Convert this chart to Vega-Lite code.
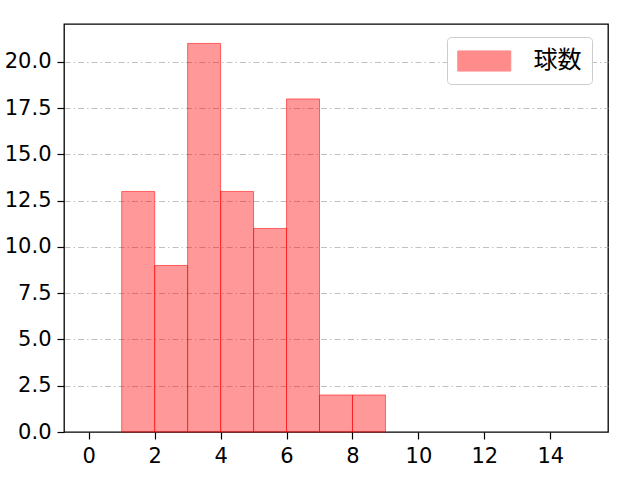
{
  "$schema": "https://vega.github.io/schema/vega-lite/v6.json",
  "autosize": {"type": "none"},
  "padding": {"left": 64, "top": 24, "right": 32, "bottom": 48},
  "width": 544,
  "height": 408,
  "background": "white",
  "data": {
    "values": [
      {"bin_start": 1, "bin_end": 2, "count": 13, "label": "球数"},
      {"bin_start": 2, "bin_end": 3, "count": 9, "label": "球数"},
      {"bin_start": 3, "bin_end": 4, "count": 21, "label": "球数"},
      {"bin_start": 4, "bin_end": 5, "count": 13, "label": "球数"},
      {"bin_start": 5, "bin_end": 6, "count": 11, "label": "球数"},
      {"bin_start": 6, "bin_end": 7, "count": 18, "label": "球数"},
      {"bin_start": 7, "bin_end": 8, "count": 2, "label": "球数"},
      {"bin_start": 8, "bin_end": 9, "count": 2, "label": "球数"}
    ]
  },
  "mark": {
    "type": "rect",
    "fillOpacity": 0.4,
    "stroke": "#ff0000",
    "strokeOpacity": 0.55,
    "strokeWidth": 1
  },
  "encoding": {
    "x": {
      "field": "bin_start",
      "type": "quantitative",
      "title": null,
      "scale": {"domain": [-0.75, 15.75], "nice": false, "zero": false},
      "axis": {"values": [0, 2, 4, 6, 8, 10, 12, 14], "grid": false}
    },
    "x2": {"field": "bin_end"},
    "y": {
      "field": "count",
      "type": "quantitative",
      "title": null,
      "scale": {"domain": [0, 22.05], "nice": false},
      "axis": {
        "values": [0, 2.5, 5, 7.5, 10, 12.5, 15, 17.5, 20],
        "format": ".1f",
        "grid": true,
        "gridDash": [6, 3, 1.5, 3],
        "gridColor": "#b0b0b0",
        "gridWidth": 0.8,
        "gridOpacity": {"condition": {"test": "datum.value === 0", "value": 0}, "value": 1}
      }
    },
    "y2": {"datum": 0},
    "color": {
      "field": "label",
      "type": "nominal",
      "scale": {"range": ["#ff0000"]},
      "legend": {
        "title": null,
        "orient": "none",
        "legendX": 383,
        "legendY": 13,
        "padding": 10,
        "strokeColor": "#cccccc",
        "fillColor": "white",
        "cornerRadius": 4,
        "symbolType": "M-1,-0.76L3,-0.76L3,0.76L-1,0.76Z",
        "symbolSize": 702,
        "symbolOpacity": 0.45,
        "symbolStrokeColor": "#ff0000",
        "symbolStrokeWidth": 1,
        "labelOffset": 48.5,
        "labelFont": "Noto Sans CJK JP",
        "labelFontSize": 24,
        "labelColor": "black"
      }
    }
  },
  "config": {
    "view": {"stroke": "black", "strokeWidth": 1.3},
    "axis": {
      "zindex": 1,
      "domain": false,
      "tickColor": "black",
      "tickSize": 7,
      "tickWidth": 1.2,
      "labelFont": "DejaVu Sans",
      "labelFontSize": 21,
      "labelColor": "black",
      "labelPadding": 6
    }
  }
}
